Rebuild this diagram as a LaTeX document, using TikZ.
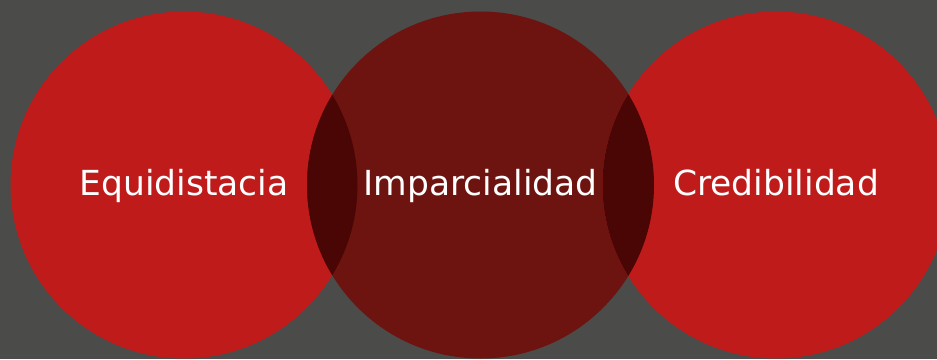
\documentclass[tikz,border=0pt]{standalone}
\usepackage{fontspec}
\setmainfont{DejaVu Sans}
\usepackage{tikz}
\definecolor{backgray}{HTML}{4B4B49}
\definecolor{discred}{HTML}{C01B1B}
\definecolor{discdark}{HTML}{6D1410}
\definecolor{lensred}{HTML}{490604}
\tikzstyle{disc}=[circle,minimum size=347pt,inner sep=0pt]
\tikzstyle{word}=[text=white,inner sep=0pt,anchor=base,font=\fontsize{34.5}{40}\selectfont]

\begin{document}
\begin{tikzpicture}[x=1pt,y=-1pt]
    % Background, also fixes the page size
    \fill[backgray] (0,0) rectangle (937,359);
    \clip (0,0) rectangle (937,359);
    % First we draw the discs
    \foreach \pos/\name/\col in {{(184,185)/equi/discred}, {(480.5,185)/impar/discdark}, {(776,185)/cred/discred}}
       \node[disc,fill=\col] (\name) at \pos {};
    % Darker overlaps where two discs meet
    \foreach \first/\second in {equi/impar, impar/cred} {
        \begin{scope}
            \clip (\first.center) circle (173.5pt);
            \fill[lensred] (\second.center) circle (173.5pt);
        \end{scope}
    }
    % Labels on top
    \foreach \name/\text in {equi/Equidistacia, impar/Imparcialidad, cred/Credibilidad}
        \path (\name.center) ++(0,10) node[word] (\name word) {\text};
\end{tikzpicture}
\end{document}
